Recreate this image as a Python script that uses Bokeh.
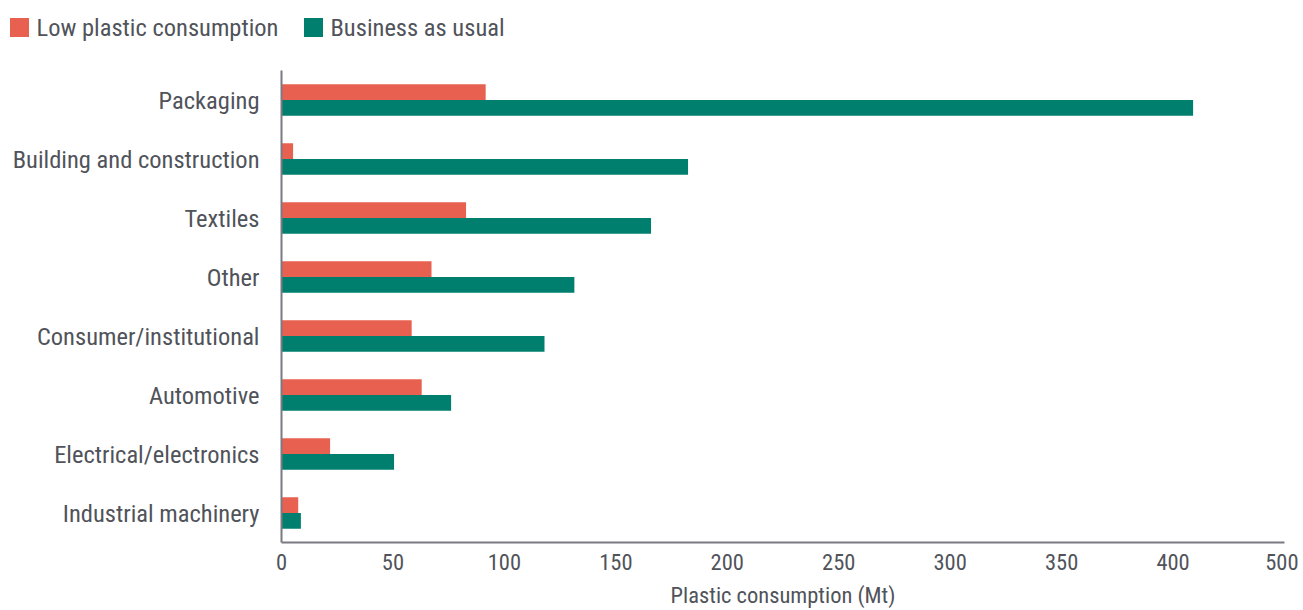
from bokeh.plotting import figure
from bokeh.layouts import column
from bokeh.models import FactorRange, Range1d, FixedTicker, Div
from bokeh.transform import dodge
from bokeh.embed import file_html
from bokeh.resources import INLINE

categories = ["Packaging", "Building and construction", "Textiles", "Other",
              "Consumer/institutional", "Automotive", "Electrical/electronics",
              "Industrial machinery"]
low_plastic = [91.6, 5.2, 82.8, 67.3, 58.4, 62.9, 21.8, 7.5]
business_as_usual = [409, 182.4, 165.8, 131.4, 118, 76.1, 50.5, 8.7]
series_names = ["Low plastic consumption", "Business as usual"]
x_ticks = [0, 50, 100, 150, 200, 250, 300, 350, 400, 450]
x_tick_labels = ["0", "50", "100", "150", "200", "250", "300", "350", "400", "500"]

RED = "#E8604F"
TEAL = "#007F6E"
TEXT = "#50535A"
FONT = "'Roboto Condensed', 'DejaVu Sans Condensed', 'Liberation Sans Narrow', Roboto, sans-serif"

data = dict(cat=categories, low=low_plastic, bau=business_as_usual)

# legend strip (HTML)
def item(left, color, label):
    return (f'<span style="position:absolute;left:{left}px;top:18px;width:18.5px;height:18.5px;'
            f'background:{color};"></span>'
            f'<span style="position:absolute;left:{left + 26.5}px;top:14px;height:28px;line-height:28px;'
            f'white-space:nowrap;">{label}</span>')

legend_html = (f'<div style="position:relative;width:1298px;height:48px;font-family:{FONT.replace(chr(39), "&#39;")};'
               f'font-size:24.5px;color:{TEXT};">'
               + item(10, RED, series_names[0]) + item(304, TEAL, series_names[1]) + '</div>')
lg = Div(text=legend_html, width=1298, height=48, margin=0)

p = figure(y_range=FactorRange(*reversed(categories), range_padding=0),
           x_range=Range1d(0, 450),
           width=1298, height=562, output_backend="svg", toolbar_location=None,
           min_border_left=281, min_border_right=14, min_border_top=22, min_border_bottom=68)

p.hbar(y=dodge("cat", 0.133, range=p.y_range), right="low", left=0, height=0.266,
       source=data, fill_color=RED, line_color=None)
p.hbar(y=dodge("cat", -0.133, range=p.y_range), right="bau", left=0, height=0.266,
       source=data, fill_color=TEAL, line_color=None)

p.outline_line_color = None
p.grid.grid_line_color = None

p.xaxis.ticker = FixedTicker(ticks=x_ticks)
p.xaxis.major_label_overrides = {t: l for t, l in zip(x_ticks, x_tick_labels)}
p.xaxis.axis_label = "Plastic consumption (Mt)"
for ax in (p.xaxis, p.yaxis):
    ax.axis_line_color = "#7A7B82"
    ax.axis_line_width = 2
    ax.major_tick_line_color = None
    ax.minor_tick_line_color = None
    ax.major_label_text_color = TEXT
    ax.major_label_text_font = FONT
p.xaxis.major_label_text_font_size = "22.5px"
p.yaxis.major_label_text_font_size = "24.5px"
p.xaxis.major_label_standoff = 5
p.yaxis.major_label_standoff = 16
p.xaxis.axis_label_text_font = FONT
p.xaxis.axis_label_text_font_size = "22.5px"
p.xaxis.axis_label_text_font_style = "normal"
p.xaxis.axis_label_text_color = TEXT
p.xaxis.axis_label_standoff = 9

layout = column(lg, p, spacing=0)
open("out.html", "w").write(file_html(layout, INLINE))
